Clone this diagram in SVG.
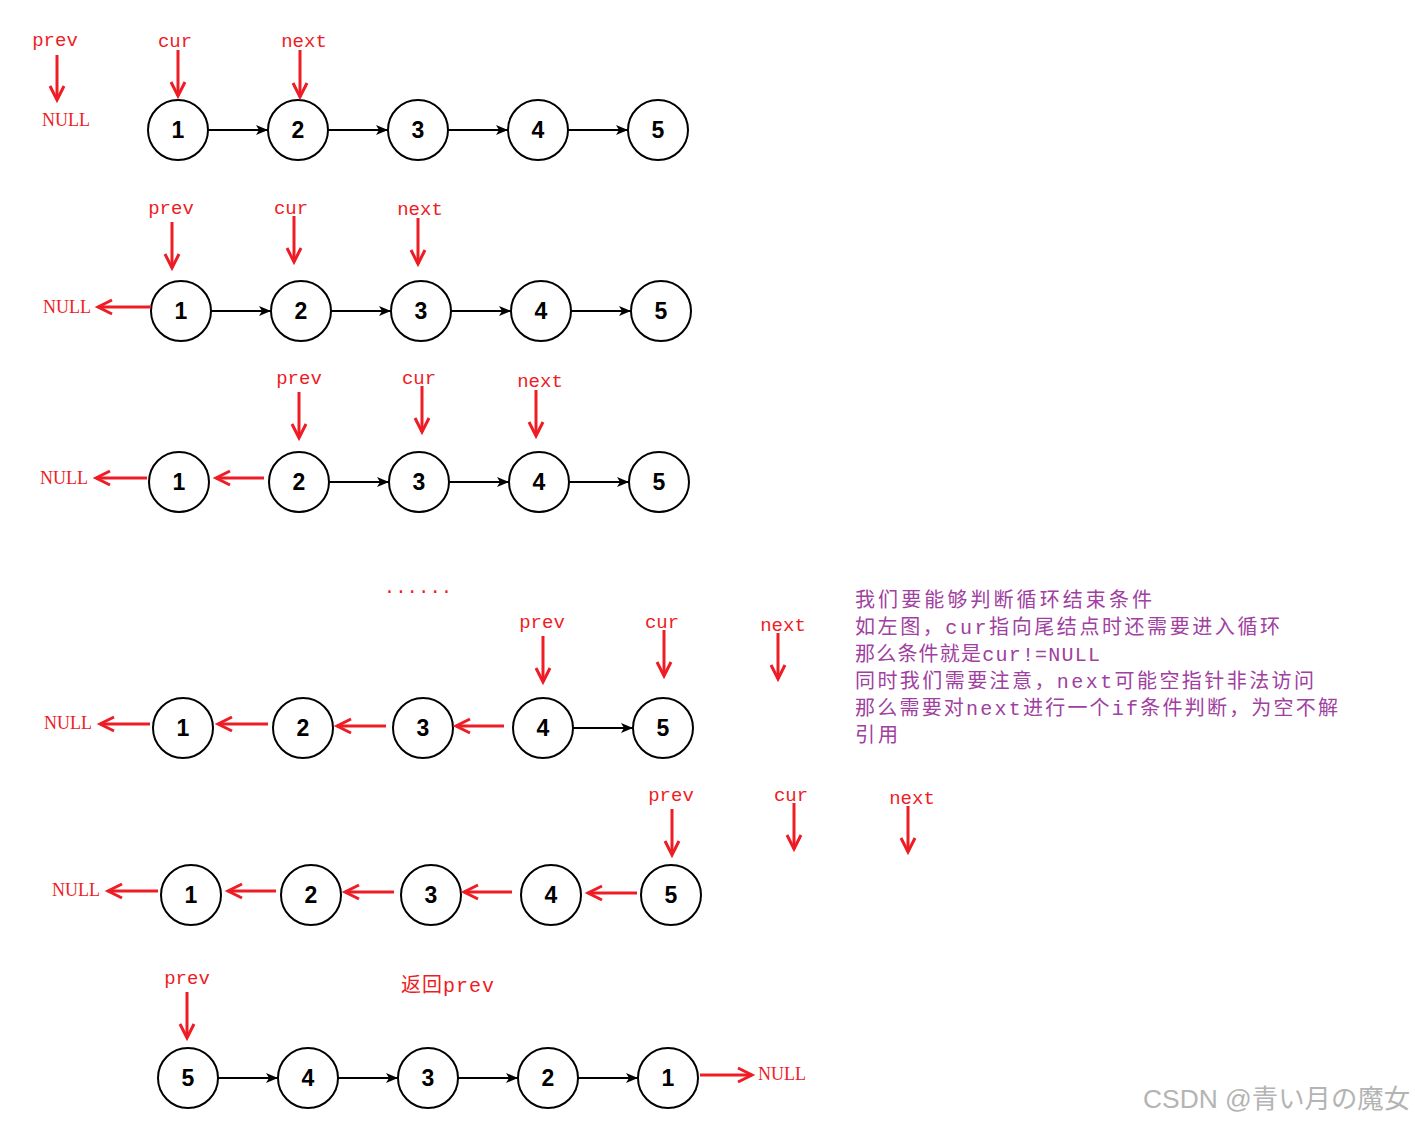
<svg xmlns="http://www.w3.org/2000/svg" width="1415" height="1124" viewBox="0 0 1415 1124">
<style>
.n circle{fill:#fff;stroke:#000;stroke-width:2}
.n text{font-family:"Liberation Sans",Arial,sans-serif;font-weight:bold;font-size:23px;text-anchor:middle;fill:#000}
.blk{stroke:#000;stroke-width:2;fill:none;marker-end:url(#ab)}
.red{stroke:#ee1c25;stroke-width:3;fill:none;marker-end:url(#ar)}
.lbl{font-family:"Liberation Mono","Courier New",monospace;font-size:19px;fill:#ee1c25;text-anchor:middle}
.nul{font-family:"Liberation Serif","Times New Roman",serif;font-size:18px;fill:#ee1c25;text-anchor:middle}
.cn{font-family:"Liberation Mono","Noto Sans CJK SC",monospace;font-size:20px;fill:#ee1c25}
.note{font-family:"Liberation Mono","Noto Sans CJK SC",monospace;font-size:20px;fill:#a040a0}
.wm{font-family:"Liberation Sans","Noto Sans CJK JP",sans-serif;font-size:26px;fill:#b4b4b4}
</style>
<defs>
<marker id="ab" markerUnits="userSpaceOnUse" markerWidth="14" markerHeight="12" refX="12" refY="5" orient="auto"><path d="M0,0 L12,5 L0,10 L3,5 z" fill="#000"/></marker>
<marker id="ar" markerUnits="userSpaceOnUse" markerWidth="20" markerHeight="20" refX="16" refY="9" orient="auto"><path d="M2,2 L16,9 L2,16" fill="none" stroke="#ee1c25" stroke-width="3"/></marker>
</defs>

<!-- Row 1 -->
<g id="r1n1" class="n"><circle cx="178" cy="130" r="30"/><text x="178" y="138">1</text></g>
<g id="r1n2" class="n"><circle cx="298" cy="130" r="30"/><text x="298" y="138">2</text></g>
<g id="r1n3" class="n"><circle cx="418" cy="130" r="30"/><text x="418" y="138">3</text></g>
<g id="r1n4" class="n"><circle cx="538" cy="130" r="30"/><text x="538" y="138">4</text></g>
<g id="r1n5" class="n"><circle cx="658" cy="130" r="30"/><text x="658" y="138">5</text></g>
<g id="r1labels">
<text class="lbl" x="55" y="46">prev</text>
<text class="nul" x="66" y="126">NULL</text>
<text class="lbl" x="175" y="47">cur</text>
<text class="lbl" x="304" y="47">next</text>
</g>

<!-- Row 2 -->
<g id="r2n1" class="n"><circle cx="181" cy="311" r="30"/><text x="181" y="319">1</text></g>
<g id="r2n2" class="n"><circle cx="301" cy="311" r="30"/><text x="301" y="319">2</text></g>
<g id="r2n3" class="n"><circle cx="421" cy="311" r="30"/><text x="421" y="319">3</text></g>
<g id="r2n4" class="n"><circle cx="541" cy="311" r="30"/><text x="541" y="319">4</text></g>
<g id="r2n5" class="n"><circle cx="661" cy="311" r="30"/><text x="661" y="319">5</text></g>
<g id="r2labels">
<text class="nul" x="67" y="313">NULL</text>
<text class="lbl" x="171" y="214">prev</text>
<text class="lbl" x="291" y="214">cur</text>
<text class="lbl" x="420" y="215">next</text>
</g>

<!-- Row 3 -->
<g id="r3n1" class="n"><circle cx="179" cy="482" r="30"/><text x="179" y="490">1</text></g>
<g id="r3n2" class="n"><circle cx="299" cy="482" r="30"/><text x="299" y="490">2</text></g>
<g id="r3n3" class="n"><circle cx="419" cy="482" r="30"/><text x="419" y="490">3</text></g>
<g id="r3n4" class="n"><circle cx="539" cy="482" r="30"/><text x="539" y="490">4</text></g>
<g id="r3n5" class="n"><circle cx="659" cy="482" r="30"/><text x="659" y="490">5</text></g>
<g id="r3labels">
<text class="nul" x="64" y="484">NULL</text>
<text class="lbl" x="299" y="384">prev</text>
<text class="lbl" x="419" y="384">cur</text>
<text class="lbl" x="540" y="387">next</text>
</g>

<text class="lbl" x="418" y="593">......</text>

<!-- Row 4 -->
<g id="r4n1" class="n"><circle cx="183" cy="728" r="30"/><text x="183" y="736">1</text></g>
<g id="r4n2" class="n"><circle cx="303" cy="728" r="30"/><text x="303" y="736">2</text></g>
<g id="r4n3" class="n"><circle cx="423" cy="728" r="30"/><text x="423" y="736">3</text></g>
<g id="r4n4" class="n"><circle cx="543" cy="728" r="30"/><text x="543" y="736">4</text></g>
<g id="r4n5" class="n"><circle cx="663" cy="728" r="30"/><text x="663" y="736">5</text></g>
<g id="r4labels">
<text class="nul" x="68" y="729">NULL</text>
<text class="lbl" x="542" y="628">prev</text>
<text class="lbl" x="662" y="628">cur</text>
<text class="lbl" x="783" y="631">next</text>
</g>

<!-- Note -->
<g id="note">
<text class="note" x="855" y="607" textLength="297" lengthAdjust="spacing">我们要能够判断循环结束条件</text>
<text class="note" x="855" y="634" textLength="425" lengthAdjust="spacing">如左图，cur指向尾结点时还需要进入循环</text>
<text class="note" x="855" y="661" textLength="245" lengthAdjust="spacing">那么条件就是cur!=NULL</text>
<text class="note" x="855" y="688" textLength="459" lengthAdjust="spacing">同时我们需要注意，next可能空指针非法访问</text>
<text class="note" x="855" y="715" textLength="483" lengthAdjust="spacing">那么需要对next进行一个if条件判断，为空不解</text>
<text class="note" x="855" y="742" textLength="43" lengthAdjust="spacing">引用</text>
</g>

<!-- Row 5 -->
<g id="r5n1" class="n"><circle cx="191" cy="895" r="30"/><text x="191" y="903">1</text></g>
<g id="r5n2" class="n"><circle cx="311" cy="895" r="30"/><text x="311" y="903">2</text></g>
<g id="r5n3" class="n"><circle cx="431" cy="895" r="30"/><text x="431" y="903">3</text></g>
<g id="r5n4" class="n"><circle cx="551" cy="895" r="30"/><text x="551" y="903">4</text></g>
<g id="r5n5" class="n"><circle cx="671" cy="895" r="30"/><text x="671" y="903">5</text></g>
<g id="r5labels">
<text class="nul" x="76" y="896">NULL</text>
<text class="lbl" x="671" y="801">prev</text>
<text class="lbl" x="791" y="801">cur</text>
<text class="lbl" x="912" y="804">next</text>
</g>

<!-- Row 6 -->
<g id="r6n5" class="n"><circle cx="188" cy="1078" r="30"/><text x="188" y="1086">5</text></g>
<g id="r6n4" class="n"><circle cx="308" cy="1078" r="30"/><text x="308" y="1086">4</text></g>
<g id="r6n3" class="n"><circle cx="428" cy="1078" r="30"/><text x="428" y="1086">3</text></g>
<g id="r6n2" class="n"><circle cx="548" cy="1078" r="30"/><text x="548" y="1086">2</text></g>
<g id="r6n1" class="n"><circle cx="668" cy="1078" r="30"/><text x="668" y="1086">1</text></g>
<g id="r6labels">
<text class="nul" x="782" y="1080">NULL</text>
<text class="lbl" x="187" y="984">prev</text>
<text class="cn" x="401" y="992" textLength="93" lengthAdjust="spacing">返回prev</text>
</g>

<text class="wm" x="1143" y="1108" textLength="267" lengthAdjust="spacingAndGlyphs">CSDN @青い月の魔女</text>

<g id="connectors">
<!-- row 1 -->
<path class="blk" d="M208,130 H268"/><path class="blk" d="M328,130 H388"/><path class="blk" d="M448,130 H508"/><path class="blk" d="M568,130 H628"/>
<path class="red" d="M57,55 V100"/><path class="red" d="M178,50 V96"/><path class="red" d="M300,50 V97"/>
<!-- row 2 -->
<path class="red" d="M151,307 H98"/>
<path class="blk" d="M211,311 H271"/><path class="blk" d="M331,311 H391"/><path class="blk" d="M451,311 H511"/><path class="blk" d="M571,311 H631"/>
<path class="red" d="M172,222 V268"/><path class="red" d="M294,216 V262"/><path class="red" d="M418,218 V264"/>
<!-- row 3 -->
<path class="red" d="M147,478 H96"/><path class="red" d="M264,478 H216"/>
<path class="blk" d="M329,482 H389"/><path class="blk" d="M449,482 H509"/><path class="blk" d="M569,482 H629"/>
<path class="red" d="M299,392 V438"/><path class="red" d="M422,386 V432"/><path class="red" d="M536,390 V436"/>
<!-- row 4 -->
<path class="red" d="M150,724 H100"/><path class="red" d="M268,724 H218"/><path class="red" d="M386,726 H337"/><path class="red" d="M504,726 H456"/>
<path class="blk" d="M573,728 H633"/>
<path class="red" d="M543,636 V682"/><path class="red" d="M664,630 V676"/><path class="red" d="M778,633 V679"/>
<!-- row 5 -->
<path class="red" d="M158,891 H108"/><path class="red" d="M276,891 H228"/><path class="red" d="M394,892 H345"/><path class="red" d="M512,892 H464"/><path class="red" d="M637,893 H588"/>
<path class="red" d="M672,809 V855"/><path class="red" d="M794,803 V849"/><path class="red" d="M908,806 V852"/>
<!-- row 6 -->
<path class="blk" d="M218,1078 H278"/><path class="blk" d="M338,1078 H398"/><path class="blk" d="M458,1078 H518"/><path class="blk" d="M578,1078 H638"/>
<path class="red" d="M700,1075 H752"/>
<path class="red" d="M187,992 V1038"/>
</g>
</svg>
